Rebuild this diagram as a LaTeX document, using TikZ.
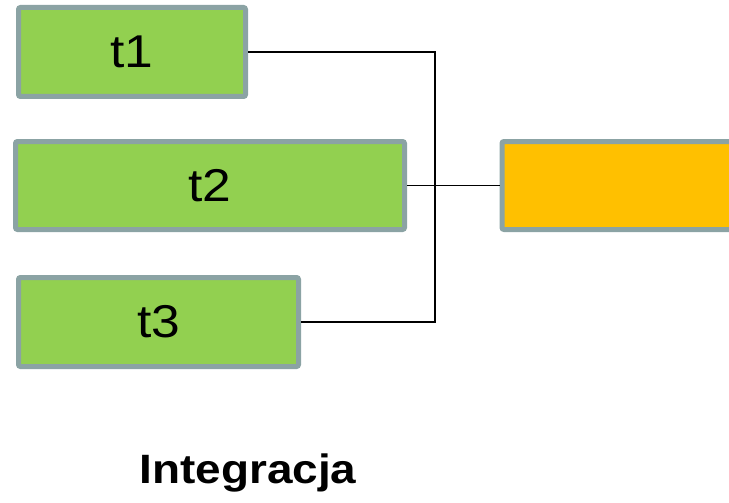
\documentclass[tikz,border=0pt]{standalone}
\usepackage{fontspec}
\setmainfont{Liberation Sans}
\newfontfamily\stretchfont[FakeStretch=1.12]{Liberation Sans}
\definecolor{boxgreen}{HTML}{92D050}
\definecolor{boxorange}{HTML}{FFC000}
\definecolor{boxgray}{HTML}{8BA3A4}
\tikzset{
  tbox/.style={draw=boxgray, line width=5pt, rounded corners=2pt, inner sep=0pt,
    font=\stretchfont\fontsize{46}{50}\selectfont},
  conn/.style={draw=black, line width=1.3pt}
}
\begin{document}
\begin{tikzpicture}[x=1pt,y=-1pt]
\useasboundingbox (0,0) rectangle (729,503);
\node[tbox, fill=boxgreen, minimum width=227pt, minimum height=89pt] (t1) at (132,52) {t1};
\node[tbox, fill=boxgreen, minimum width=389pt, minimum height=88pt] (t2) at (210,185.5) {t2};
\node[tbox, fill=boxgreen, minimum width=280pt, minimum height=89pt] (t3) at (158.5,322) {t3};
\node[tbox, fill=boxorange, minimum width=260pt, minimum height=88pt, anchor=west] (out) at (499.5,185.5) {};
\coordinate (j1) at (435,52);
\coordinate (j3) at (435,322);
\draw[conn] (t1.east) -- (j1) -- (j3) -- (t3.east);
\draw[conn] (t2.east) -- (out.west);
\node[font=\stretchfont\bfseries\fontsize{41}{45}\selectfont, anchor=base] (title) at (248,483) {Integracja};
\end{tikzpicture}
\end{document}
